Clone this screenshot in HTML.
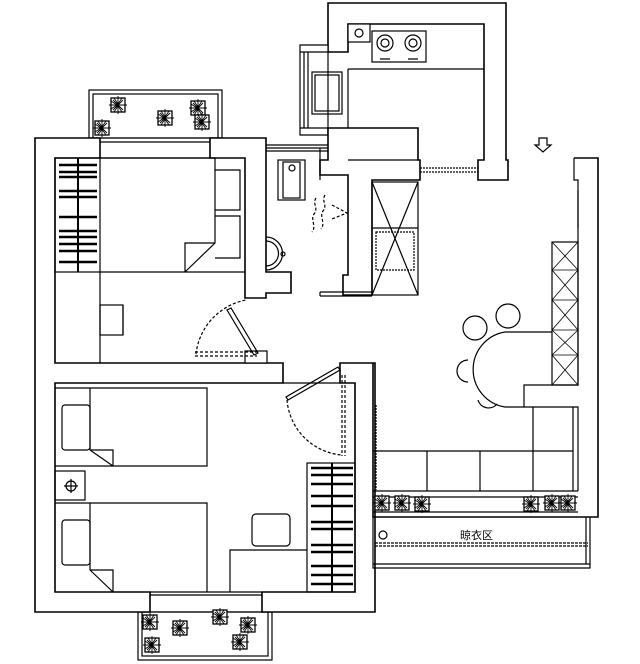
<!DOCTYPE html>
<html><head><meta charset="utf-8"><style>
html,body{margin:0;padding:0;background:#fff;width:640px;height:664px;overflow:hidden}
svg{display:block}
</style></head><body>
<svg width="640" height="664" viewBox="0 0 640 664" xmlns="http://www.w3.org/2000/svg" fill="none" stroke="#000" stroke-width="1.2">
<defs>
<g id="pl">
<rect x="-7" y="-7" width="14" height="14" fill="#fff" stroke-width="1.3"/>
<path d="M-5 -5L5 5M5 -5L-5 5M0 -9V9M-9 0H9M-4 -7L0 -1L4 -7M-7 4L-1 0L-7 -4M4 7L0 1L-4 7" stroke-width="0.9"/>
</g>
</defs>
<!-- top balcony -->
<rect x="89" y="90" width="133" height="48"/>
<rect x="93" y="94" width="125" height="44"/>
<use href="#pl" x="118" y="105"/><use href="#pl" x="102" y="128"/><use href="#pl" x="165" y="118"/><use href="#pl" x="198" y="108"/><use href="#pl" x="202" y="122"/>
<!-- bottom balcony -->
<rect x="138" y="612" width="134" height="48"/>
<rect x="142" y="612" width="126" height="44"/>
<use href="#pl" x="150" y="622"/><use href="#pl" x="152" y="645"/><use href="#pl" x="180" y="628"/><use href="#pl" x="220" y="617"/><use href="#pl" x="248" y="625"/><use href="#pl" x="240" y="642"/>
<!-- left apartment walls -->
<path d="M35 138H100V158H55V363H283V383H55V592H150V612H35Z" fill="#fff" stroke-width="1.6"/>
<path d="M210 138H266V272H291V293H266V298H245V158H210Z" fill="#fff" stroke-width="1.6"/>
<path d="M262 612V592H355V383H340V363H375V612Z" fill="#fff" stroke-width="1.6"/>
<path d="M100 142H210M100 158H210" />
<path d="M150 592H262M150 595H262"/>
<rect x="245" y="351" width="22" height="12" fill="#fff"/>
<!-- upper bedroom -->
<rect x="55" y="158" width="45" height="114"/>
<path d="M78 158V272" stroke-width="2"/>
<g stroke-width="2.4"><path d="M59 165H97M59 172H97M59 177H97M59 191H97M59 197H97M59 217H97M59 231H97M59 237H97M59 244H97M59 251H97M59 262H97"/></g>
<path d="M100 272H245M100 272V363M100 158H215V243L185 272M185 272V243H215M215 170H240V210H215M215 216H240V258H215"/>
<rect x="100" y="305" width="23" height="30"/>
<path d="M123 305V335"/>
<path d="M195 356H257M195 352H257" stroke-dasharray="3 2"/>
<path d="M196 354A62 62 0 0 1 246 300" stroke-dasharray="3 2"/>
<path d="M227 310L254 355L258 353L231 308Z"/>
<!-- lower bedroom -->
<path d="M55 388H207V466H55M55 503H207V592M90 388V450M90 503V570M90 450L113 466M90 570L113 592M90 450H113V466M90 570H113V592"/>
<rect x="62" y="405" width="28" height="45" rx="3"/>
<rect x="62" y="520" width="28" height="45" rx="3"/>
<rect x="55" y="471" width="30" height="29"/>
<circle cx="71" cy="486" r="5"/><path d="M64 486H78M71 479V493"/>
<rect x="307" y="463" width="48" height="129"/>
<path d="M332 463V592" stroke-width="2"/>
<g stroke-width="2.4"><path d="M311 468H353M311 475H353M311 484H353M311 496H353M311 506H353M311 522H353M311 529H353M311 545H353M311 552H353M311 566H353M311 575H353M311 584H353"/></g>
<path d="M230 592V550H307"/>
<rect x="252" y="514" width="38" height="32" rx="4"/>
<path d="M283 383H340" />
<path d="M288 400L340 370L338 367L286 397Z"/>
<path d="M287 400A60 60 0 0 0 342 455" stroke-dasharray="3 2"/>
<path d="M342 375V456M345 375V456" stroke-dasharray="3 2"/>
<!-- bathroom -->
<path d="M266 145H330M266 148H330M266 151H330"/>
<rect x="278" y="160" width="27" height="40"/>
<rect x="283" y="162" width="17" height="36"/>
<circle cx="292" cy="168" r="3"/>
<path d="M266 237A16 16 0 0 1 266 270"/>
<path d="M266 241A12 12 0 0 1 266 266"/>
<circle cx="283" cy="254" r="2"/>
<path d="M316 198c-4 6 3 10-2 16c-4 6 3 12-2 18M325 195c-4 6 3 10-2 16c-4 6 3 12-2 18M332 205l15 8l-15 6" stroke-dasharray="3 2"/>
<!-- kitchen + central walls -->
<path d="M328 3H506V160H508V180H478V160H484V24H348V52H328Z" fill="#fff" stroke-width="1.6"/>
<rect x="348" y="24" width="22" height="18" fill="#fff"/>
<circle cx="359" cy="33" r="4"/>
<path d="M300 45H328V135H300Z" fill="#fff"/>
<path d="M304 52V128M308 52V128M300 52H328M300 128H328"/>
<rect x="312" y="72" width="30" height="42"/>
<rect x="315" y="75" width="24" height="36"/>
<rect x="372" y="31" width="54" height="31"/>
<circle cx="385" cy="43" r="8"/><circle cx="385" cy="43" r="4"/>
<circle cx="413" cy="43" r="8"/><circle cx="413" cy="43" r="4"/>
<path d="M380 59H390M408 59H418"/>
<path d="M348 69H484M348 69V128"/>
<path d="M328 128H348V128H418V160H420V180H372V295H343V275H348V175H320V160H328Z" fill="#fff" stroke-width="1.6"/>
<path d="M348 160H418"/>
<rect x="372" y="182" width="46" height="113"/>
<path d="M372 182L418 295M418 182L372 295M372 228H418"/>
<rect x="376" y="232" width="38" height="38" stroke-dasharray="2 1"/>
<path d="M320 292H372M320 296H372M320 292V296"/>
<path d="M420 168H478M420 172H478" stroke-dasharray="2 1"/>
<path d="M320 148V180" />
<!-- right side -->
<path d="M574 158H598V517H373V363" stroke-width="1.6"/>
<path d="M574 158V180H578V385H524V407H578V491"/>
<path d="M578 190V228" />
<rect x="552" y="242" width="26" height="143"/>
<path d="M552 270H578M552 300H578M552 330H578M552 355H578M552 242L578 270L552 300L578 330L552 355L578 385M578 242L552 270L578 300L552 330L578 355L552 385" stroke-width="0.8"/>
<path d="M373 451H573M373 491H578M427 451V491M480 451V491M533 407V491M573 407V491M373 497H578M373 512H578"/>
<path d="M376 405V490" stroke-dasharray="2 1"/>
<use href="#pl" x="382" y="503"/><use href="#pl" x="402" y="503"/><use href="#pl" x="422" y="504"/><use href="#pl" x="531" y="504"/><use href="#pl" x="552" y="503"/><use href="#pl" x="568" y="503"/>
<path d="M373 517V568H590V517M373 564H590M586 517V564"/>
<path d="M375 543H588M375 546H588" stroke-dasharray="3 1"/>
<circle cx="383" cy="535" r="4"/>
<text x="460" y="539" font-family="Liberation Sans, Noto Sans CJK SC, sans-serif" font-size="11" fill="#000" stroke="none">晾衣区</text>
<!-- dining -->
<path d="M552 332H505A38 38 0 0 0 505 407H524"/>
<circle cx="475" cy="328" r="12"/>
<circle cx="508" cy="316" r="12"/>
<path d="M468 360A11 11 0 0 0 468 382"/>
<path d="M478 400A11 11 0 0 0 497 404"/>
<!-- arrow -->
<path d="M539 138H547V145H551L543 152L535 145H539Z"/>
</svg>
</body></html>
